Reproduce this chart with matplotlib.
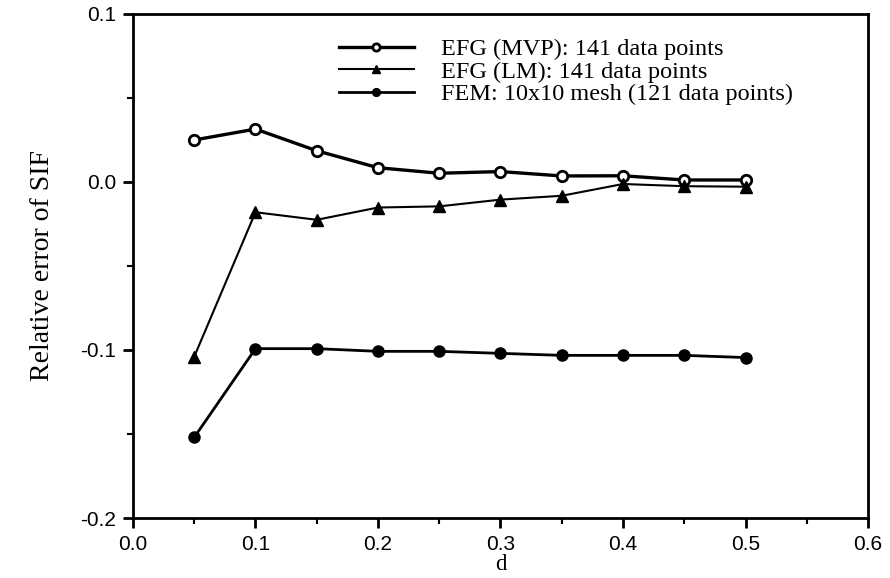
import matplotlib
matplotlib.use('Agg')
import matplotlib.pyplot as plt
from matplotlib.ticker import MultipleLocator

# spacing d
d = [0.05, 0.10, 0.15, 0.20, 0.25, 0.30, 0.35, 0.40, 0.45, 0.50]

# relative error of SIF
efg_mvp = [0.025, 0.0315, 0.0186, 0.0085, 0.0052, 0.0062, 0.0036, 0.0037, 0.0012, 0.0012]
efg_lm = [-0.104, -0.018, -0.0225, -0.0152, -0.0145, -0.0105, -0.0082, -0.0012, -0.0025, -0.0028]
fem = [-0.152, -0.0992, -0.0992, -0.1008, -0.1008, -0.102, -0.1032, -0.1032, -0.1032, -0.1045]

serif = 'Liberation Serif'
sans = 'Liberation Sans'

fig = plt.figure(figsize=(8.9, 5.78), dpi=100)
ax = fig.add_axes([0.1494, 0.1038, 0.8259, 0.872])

ax.plot(d, efg_mvp, '-o', color='black', lw=2.4, ms=7.5, mfc='white', mew=2,
        label='EFG (MVP): 141 data points')
ax.plot(d, efg_lm, '-^', color='black', lw=1.5, ms=8,
        label='EFG (LM): 141 data points')
ax.plot(d, fem, '-o', color='black', lw=2.0, ms=8,
        label='FEM: 10x10 mesh (121 data points)')

ax.set_xlim(0.0, 0.6)
ax.set_ylim(-0.2, 0.1)
ax.xaxis.set_major_locator(MultipleLocator(0.1))
ax.xaxis.set_minor_locator(MultipleLocator(0.05))
ax.yaxis.set_major_locator(MultipleLocator(0.1))
ax.yaxis.set_minor_locator(MultipleLocator(0.05))
ax.xaxis.set_major_formatter(plt.FormatStrFormatter('%.1f'))
ax.yaxis.set_major_formatter(plt.FormatStrFormatter('%.1f'))
ax.tick_params(which='major', direction='out', length=7, width=2, labelsize=15, pad=5)
ax.tick_params(which='minor', direction='out', length=4, width=1.5)
for lab in ax.get_xticklabels() + ax.get_yticklabels():
    lab.set_family(sans)
for sp in ax.spines.values():
    sp.set_linewidth(2)

ax.set_xlabel('d', fontsize=16.5, family=serif, labelpad=0)
ax.set_ylabel('Relative error of SIF', fontsize=20, family=serif, labelpad=18)

leg = ax.legend(loc='upper left', bbox_to_anchor=(0.25, 0.995), frameon=False,
                prop={'family': serif, 'size': 17.5}, handlelength=3.1,
                handletextpad=1.1, labelspacing=0.02, markerscale=0.7)

fig.savefig('out.png', dpi=100)
